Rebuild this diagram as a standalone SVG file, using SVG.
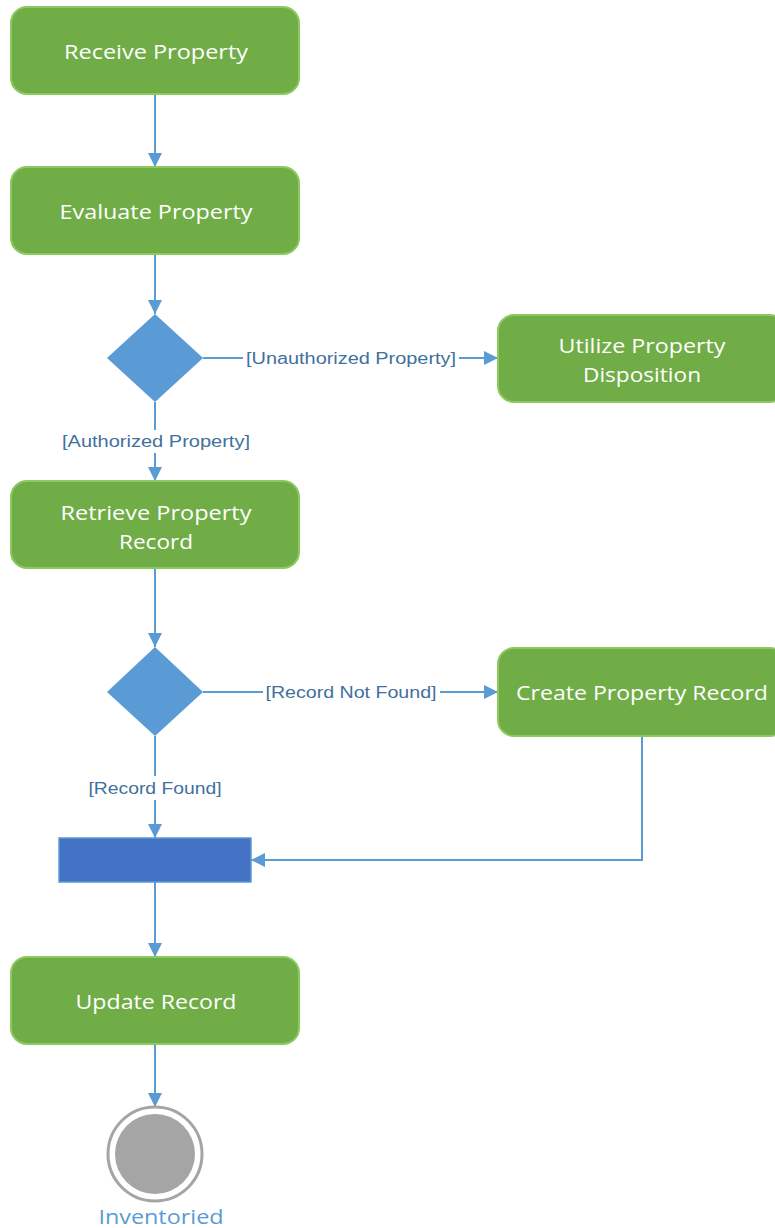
<svg xmlns="http://www.w3.org/2000/svg" width="775" height="1228" viewBox="0 0 775 1228">
<defs>
<style>
.act{fill:#70AD47;stroke:#8CC95E;stroke-width:2}
.dec{fill:#5B9BD5}
.t{font-family:"Open Sans","Noto Sans",sans-serif;font-size:20px;fill:#FFFFFF;text-anchor:middle;dominant-baseline:central}
.lb{font-family:"Liberation Sans","Noto Sans",sans-serif;font-size:16px;fill:#41719C;text-anchor:middle;dominant-baseline:central}
.c{fill:none;stroke:#5B9BD5;stroke-width:2}
</style>
<marker id="ah" markerWidth="14" markerHeight="14" refX="14" refY="7" orient="auto" markerUnits="userSpaceOnUse">
<path d="M0,0 L14,7 L0,14 Z" fill="#5B9BD5"/>
</marker>
</defs>
<rect width="775" height="1228" fill="#FFFFFF"/>
<g id="connectors">
<path class="c" d="M155,94 V167" marker-end="url(#ah)"/>
<path class="c" d="M155,254 V314" marker-end="url(#ah)"/>
<path class="c" d="M203,358 H243"/>
<path class="c" d="M459,358 H498" marker-end="url(#ah)"/>
<path class="c" d="M155,402 V430"/>
<path class="c" d="M155,453 V481" marker-end="url(#ah)"/>
<path class="c" d="M155,568 V647" marker-end="url(#ah)"/>
<path class="c" d="M203,692 H263"/>
<path class="c" d="M440,692 H498" marker-end="url(#ah)"/>
<path class="c" d="M155,736 V776"/>
<path class="c" d="M155,800 V838" marker-end="url(#ah)"/>
<path class="c" d="M642,736 V860 H251" marker-end="url(#ah)"/>
<path class="c" d="M155,882 V957" marker-end="url(#ah)"/>
<path class="c" d="M155,1044 V1107" marker-end="url(#ah)"/>
<text class="lb" x="351" y="358" textLength="210" lengthAdjust="spacingAndGlyphs">[Unauthorized Property]</text>
<text class="lb" x="156" y="441" textLength="188" lengthAdjust="spacingAndGlyphs">[Authorized Property]</text>
<text class="lb" x="351" y="692" textLength="171" lengthAdjust="spacingAndGlyphs">[Record Not Found]</text>
<text class="lb" x="155" y="788" textLength="133" lengthAdjust="spacingAndGlyphs">[Record Found]</text>
</g>
<g id="receive">
<rect class="act" x="11" y="7" width="288" height="87" rx="16"/>
<text class="t" x="156" y="51" textLength="184" lengthAdjust="spacingAndGlyphs">Receive Property</text>
</g>
<g id="evaluate">
<rect class="act" x="11" y="167" width="288" height="87" rx="16"/>
<text class="t" x="156" y="211" textLength="193" lengthAdjust="spacingAndGlyphs">Evaluate Property</text>
</g>
<g id="decision1">
<path class="dec" d="M155,314 L203,358 L155,402 L107,358 Z"/>
</g>
<g id="utilize">
<rect class="act" x="498" y="315" width="288" height="87" rx="16"/>
<text class="t" x="642" y="345" textLength="167" lengthAdjust="spacingAndGlyphs">Utilize Property</text>
<text class="t" x="642" y="374" textLength="118" lengthAdjust="spacingAndGlyphs">Disposition</text>
</g>
<g id="retrieve">
<rect class="act" x="11" y="481" width="288" height="87" rx="16"/>
<text class="t" x="156" y="512" textLength="191" lengthAdjust="spacingAndGlyphs">Retrieve Property</text>
<text class="t" x="156" y="541" textLength="74" lengthAdjust="spacingAndGlyphs">Record</text>
</g>
<g id="decision2">
<path class="dec" d="M155,647 L203,692 L155,736 L107,692 Z"/>
</g>
<g id="create">
<rect class="act" x="498" y="648" width="288" height="88" rx="16"/>
<text class="t" x="642" y="692" textLength="252" lengthAdjust="spacingAndGlyphs">Create Property Record</text>
</g>
<g id="join">
<rect x="59" y="838" width="192" height="44" fill="#4472C4" stroke="#5B9BD5" stroke-width="1.5"/>
</g>
<g id="update">
<rect class="act" x="11" y="957" width="288" height="87" rx="16"/>
<text class="t" x="156" y="1001" textLength="161" lengthAdjust="spacingAndGlyphs">Update Record</text>
</g>
<g id="final">
<circle cx="155" cy="1154" r="47" fill="#FFFFFF" stroke="#A5A5A5" stroke-width="3"/>
<circle cx="155" cy="1154" r="40" fill="#A5A5A5"/>
<text x="161" y="1224" font-family="Open Sans, Noto Sans, sans-serif" font-size="20" fill="#5B9BD5" text-anchor="middle" textLength="125" lengthAdjust="spacingAndGlyphs">Inventoried</text>
</g>
</svg>
